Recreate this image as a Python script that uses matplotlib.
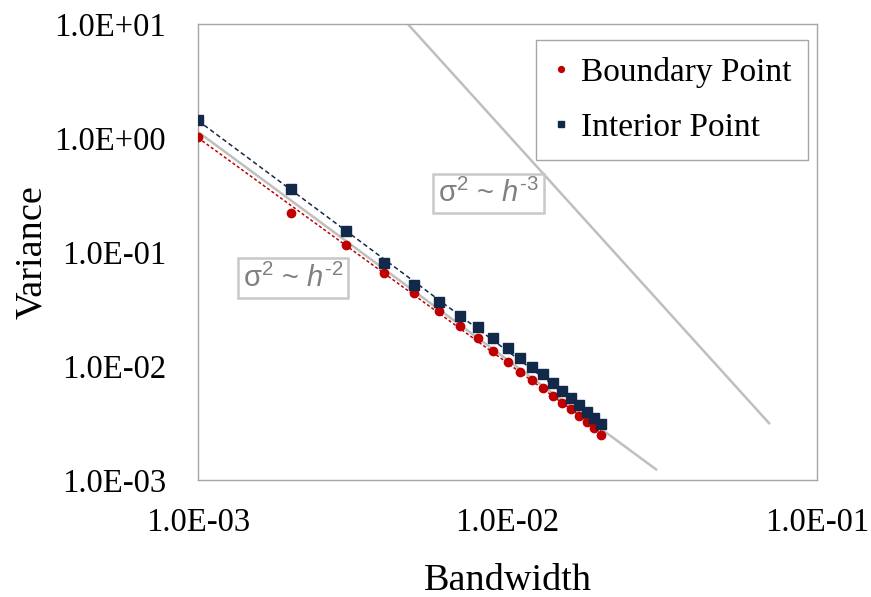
import numpy as np
import matplotlib
matplotlib.use("Agg")
import matplotlib.pyplot as plt
from matplotlib.ticker import FixedLocator, FuncFormatter, NullLocator

plt.rcParams["mathtext.fontset"] = "custom"
plt.rcParams["mathtext.rm"] = "Liberation Sans"
plt.rcParams["mathtext.it"] = "Liberation Sans:italic"

# Bandwidth h and measured variance
bandwidth = [0.001, 0.002, 0.003, 0.004, 0.005, 0.006, 0.007, 0.008, 0.009, 0.010,
             0.011, 0.012, 0.013, 0.014, 0.015, 0.016, 0.017, 0.018, 0.019, 0.020]
boundary_var = [1.02, 0.220, 0.115, 0.0655, 0.0436, 0.0303, 0.0225, 0.0176, 0.0136, 0.0108,
                0.00886, 0.00753, 0.00641, 0.00546, 0.00473, 0.00420, 0.00364, 0.00323,
                0.00286, 0.00248]
interior_var = [1.44, 0.357, 0.153, 0.080, 0.0514, 0.0364, 0.0275, 0.0220, 0.0176, 0.0144,
                0.01175, 0.0098, 0.00851, 0.0071, 0.00604, 0.00524, 0.00455, 0.00394,
                0.0035, 0.0031]

# Reference scaling laws: sigma^2 = C * h^-p
ref2_coef, ref2_range = 1.13e-6, (0.001, 0.0302)
ref3_coef, ref3_range = 1.08e-6, (0.0045, 0.070)

x_ticks = [1e-3, 1e-2, 1e-1]
y_ticks = [1e-3, 1e-2, 1e-1, 1e0, 1e1]

red = "#C00000"
navy = "#12294A"
ref_gray = "#BFBFBF"
frame_gray = "#A6A6A6"
text_gray = "#808080"

fig = plt.figure(figsize=(8.71, 5.97), dpi=100)
ax = fig.add_axes([198 / 871, 1 - 480 / 597, 619 / 871, 456 / 597])
ax.set_xscale("log")
ax.set_yscale("log")
ax.set_xlim(1e-3, 1e-1)
ax.set_ylim(1e-3, 1e1)

# reference slopes
h2 = np.geomspace(*ref2_range, 50)
ax.plot(h2, ref2_coef * h2 ** -2, color=ref_gray, lw=1.8, zorder=1)
h3 = np.geomspace(*ref3_range, 50)
ax.plot(h3, ref3_coef * h3 ** -3, color=ref_gray, lw=1.8, zorder=1)

# power-law trendlines fitted in log space
hx = np.array(bandwidth)
for vals, col, dash in ((boundary_var, red, (0, (2.0, 1.5))),
                        (interior_var, navy, (0, (3.0, 2.0)))):
    k, b = np.polyfit(np.log10(hx), np.log10(vals), 1)
    hf = np.geomspace(hx.min(), hx.max(), 50)
    ax.plot(hf, 10 ** b * hf ** k, color=col, lw=1.1, ls=dash, zorder=2)

ax.plot(bandwidth, boundary_var, ls="none", marker="o", ms=6, color=red,
        mec=red, label="Boundary Point", zorder=3)
ax.plot(bandwidth, interior_var, ls="none", marker="s", ms=6.5, color=navy,
        mec=navy, label="Interior Point", zorder=4)

# axes styling
for s in ax.spines.values():
    s.set_color(frame_gray)
    s.set_linewidth(1.0)
ax.xaxis.set_major_locator(FixedLocator(x_ticks))
ax.yaxis.set_major_locator(FixedLocator(y_ticks))
ax.xaxis.set_minor_locator(NullLocator())
ax.yaxis.set_minor_locator(NullLocator())
fmt = FuncFormatter(lambda v, pos: f"{v:.1E}")
ax.xaxis.set_major_formatter(fmt)
ax.yaxis.set_major_formatter(fmt)
ax.tick_params(axis="both", length=0, labelsize=23.5)
ax.tick_params(axis="x", pad=20)
ax.tick_params(axis="y", pad=23)
for lab in ax.get_xticklabels() + ax.get_yticklabels():
    lab.set_fontfamily("Liberation Serif")

ax.set_xlabel("Bandwidth", fontsize=27.5, fontfamily="Liberation Serif", labelpad=18)
ax.set_ylabel("Variance", fontsize=27.5, fontfamily="Liberation Serif", labelpad=4)

box = dict(boxstyle="square,pad=0.17", fc="white", ec="#C8C8C8", lw=1.8)
ax.text(0.1535, 0.443, r"σ$^{2}$ ~ $h^{\text{-}2}$", transform=ax.transAxes,
        ha="center", va="center", fontsize=21, color=text_gray,
        fontfamily="Liberation Sans", bbox=box, zorder=5)
ax.text(0.470, 0.629, r"σ$^{2}$ ~ $h^{\text{-}3}$", transform=ax.transAxes,
        ha="center", va="center", fontsize=21, color=text_gray,
        fontfamily="Liberation Sans", bbox=box, zorder=5)

leg = ax.legend(loc="upper right", bbox_to_anchor=(0.9855, 0.965), borderaxespad=0,
                prop={"family": "Liberation Serif", "size": 24}, markerscale=0.7,
                handlelength=0.5, handletextpad=0.35, labelspacing=0.75,
                borderpad=0.5, fancybox=False, framealpha=1)
leg.get_frame().set_edgecolor(frame_gray)
leg.get_frame().set_linewidth(1.0)

fig.savefig("out.png", dpi=100)
